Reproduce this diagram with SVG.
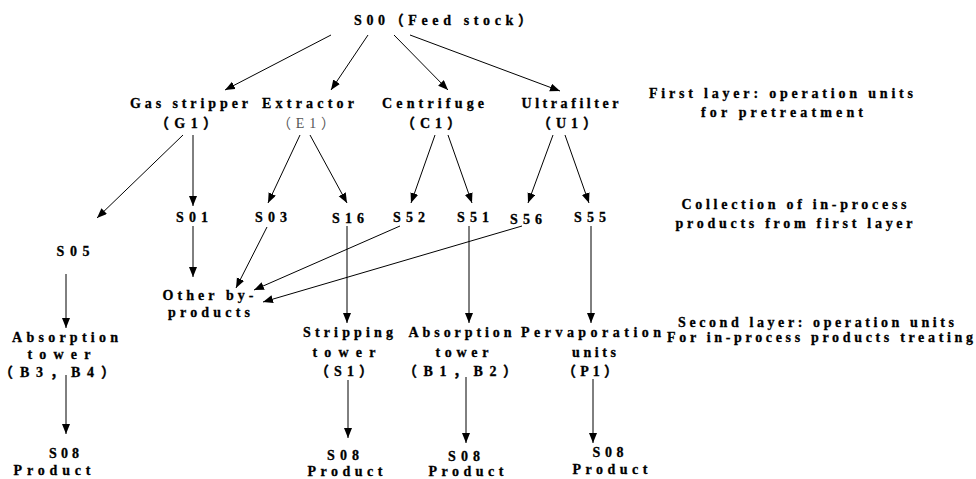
<svg xmlns="http://www.w3.org/2000/svg" width="976" height="479" viewBox="0 0 976 479">
<style>
text{font-family:"Liberation Serif","Times New Roman",serif;font-size:14px;font-weight:700;fill:#000;stroke:#000;stroke-width:0.3;text-anchor:middle}
.k{font-family:"Noto Sans CJK SC","Liberation Serif",sans-serif}
.g{font-weight:400;fill:#555;stroke:none}
.c line{stroke:#000;stroke-width:1;marker-end:url(#ah)}
</style>
<defs>
<marker id="ah" markerUnits="userSpaceOnUse" markerWidth="11" markerHeight="9" refX="10" refY="4" orient="auto" viewBox="0 0 11 9">
<path d="M0,0 L10,4 L0,8 z" fill="#000"/>
</marker>
</defs>
<rect width="976" height="479" fill="#fff"/>
<g class="c" id="connectors">
<line x1="331" y1="35" x2="225" y2="90"/>
<line x1="368" y1="35" x2="331" y2="90"/>
<line x1="394" y1="35" x2="448" y2="90"/>
<line x1="410" y1="35" x2="560" y2="91"/>
<line x1="183" y1="135" x2="97" y2="218"/>
<line x1="193" y1="135" x2="193" y2="206"/>
<line x1="300" y1="135" x2="268" y2="203"/>
<line x1="310" y1="135" x2="347" y2="203"/>
<line x1="435" y1="135" x2="411" y2="203"/>
<line x1="448" y1="135" x2="472" y2="203"/>
<line x1="553" y1="135" x2="528" y2="203"/>
<line x1="565" y1="135" x2="589" y2="203"/>
<line x1="193" y1="226" x2="193" y2="277"/>
<line x1="267" y1="227" x2="236" y2="288"/>
<line x1="400" y1="226" x2="254" y2="290"/>
<line x1="522" y1="226" x2="263" y2="302"/>
<line x1="347" y1="226" x2="347" y2="323"/>
<line x1="469" y1="226" x2="469" y2="323"/>
<line x1="591" y1="226" x2="591" y2="323"/>
<line x1="66" y1="274" x2="66" y2="328"/>
<line x1="66" y1="375" x2="66" y2="434"/>
<line x1="348" y1="380" x2="348" y2="438"/>
<line x1="466" y1="377" x2="466" y2="443"/>
<line x1="593" y1="379" x2="593" y2="443"/>
</g>
<g id="S00"><text x="443" y="25" textLength="178" lengthAdjust="spacing">S00<tspan class="k">（</tspan>Feed stock<tspan class="k">）</tspan></text></g>
<g id="G1"><text x="189" y="108" textLength="118" lengthAdjust="spacing">Gas stripper</text><text x="186" y="128" textLength="62" lengthAdjust="spacing"><tspan class="k">（</tspan>G1<tspan class="k">）</tspan></text></g>
<g id="E1"><text x="308" y="108" textLength="92" lengthAdjust="spacing">Extractor</text><text class="g" x="306" y="128" textLength="58" lengthAdjust="spacing"><tspan class="k">（</tspan>E1<tspan class="k">）</tspan></text></g>
<g id="C1"><text x="433" y="108" textLength="102" lengthAdjust="spacing">Centrifuge</text><text x="431" y="128" textLength="60" lengthAdjust="spacing"><tspan class="k">（</tspan>C1<tspan class="k">）</tspan></text></g>
<g id="U1"><text x="570" y="108" textLength="97" lengthAdjust="spacing">Ultrafilter</text><text x="567" y="128" textLength="60" lengthAdjust="spacing"><tspan class="k">（</tspan>U1<tspan class="k">）</tspan></text></g>
<g id="label1"><text x="781" y="98" textLength="264" lengthAdjust="spacing">First layer: operation units</text><text x="782" y="117" textLength="162" lengthAdjust="spacing">for pretreatment</text></g>
<g id="S01"><text x="192" y="222" textLength="32" lengthAdjust="spacing">S01</text></g>
<g id="S03"><text x="271" y="222" textLength="32" lengthAdjust="spacing">S03</text></g>
<g id="S16"><text x="348" y="223" textLength="32" lengthAdjust="spacing">S16</text></g>
<g id="S52"><text x="409" y="222" textLength="32" lengthAdjust="spacing">S52</text></g>
<g id="S51"><text x="473" y="222" textLength="32" lengthAdjust="spacing">S51</text></g>
<g id="S56"><text x="526" y="224" textLength="32" lengthAdjust="spacing">S56</text></g>
<g id="S55"><text x="590" y="222" textLength="32" lengthAdjust="spacing">S55</text></g>
<g id="label2"><text x="794" y="209" textLength="225" lengthAdjust="spacing">Collection of in-process</text><text x="794" y="228" textLength="237" lengthAdjust="spacing">products from first layer</text></g>
<g id="S05"><text x="73" y="256" textLength="33" lengthAdjust="spacing">S05</text></g>
<g id="other"><text x="208" y="300" textLength="91" lengthAdjust="spacing">Other by-</text><text x="209" y="317" textLength="82" lengthAdjust="spacing">products</text></g>
<g id="B3B4"><text x="65" y="342" textLength="106" lengthAdjust="spacing">Absorption</text><text x="59" y="359" textLength="63" lengthAdjust="spacing">tower</text><text x="57" y="377" textLength="116" lengthAdjust="spacing"><tspan class="k">（</tspan>B3<tspan class="k">，</tspan>B4<tspan class="k">）</tspan></text></g>
<g id="S1"><text x="348" y="337" textLength="90" lengthAdjust="spacing">Stripping</text><text x="344" y="357" textLength="63" lengthAdjust="spacing">tower</text><text x="344" y="376" textLength="58" lengthAdjust="spacing"><tspan class="k">（</tspan>S1<tspan class="k">）</tspan></text></g>
<g id="B1B2"><text x="460" y="337" textLength="103" lengthAdjust="spacing">Absorption</text><text x="462" y="357" textLength="53" lengthAdjust="spacing">tower</text><text x="460" y="376" textLength="114" lengthAdjust="spacing"><tspan class="k">（</tspan>B1<tspan class="k">，</tspan>B2<tspan class="k">）</tspan></text></g>
<g id="P1"><text x="591" y="337" textLength="140" lengthAdjust="spacing">Pervaporation</text><text x="594" y="357" textLength="44" lengthAdjust="spacing">units</text><text x="590" y="376" textLength="56" lengthAdjust="spacing"><tspan class="k">（</tspan>P1<tspan class="k">）</tspan></text></g>
<g id="label3"><text x="816" y="327" textLength="276" lengthAdjust="spacing">Second layer: operation units</text><text x="820" y="342" textLength="306" lengthAdjust="spacing">For in-process products treating</text></g>
<g id="prod1"><text x="64" y="458" textLength="30" lengthAdjust="spacing">S08</text><text x="52" y="475" textLength="77" lengthAdjust="spacing">Product</text></g>
<g id="prod2"><text x="343" y="460" textLength="32" lengthAdjust="spacing">S08</text><text x="345" y="476" textLength="75" lengthAdjust="spacing">Product</text></g>
<g id="prod3"><text x="464" y="461" textLength="32" lengthAdjust="spacing">S08</text><text x="466" y="476" textLength="75" lengthAdjust="spacing">Product</text></g>
<g id="prod4"><text x="608" y="457" textLength="31" lengthAdjust="spacing">S08</text><text x="610" y="474" textLength="75" lengthAdjust="spacing">Product</text></g>
</svg>
